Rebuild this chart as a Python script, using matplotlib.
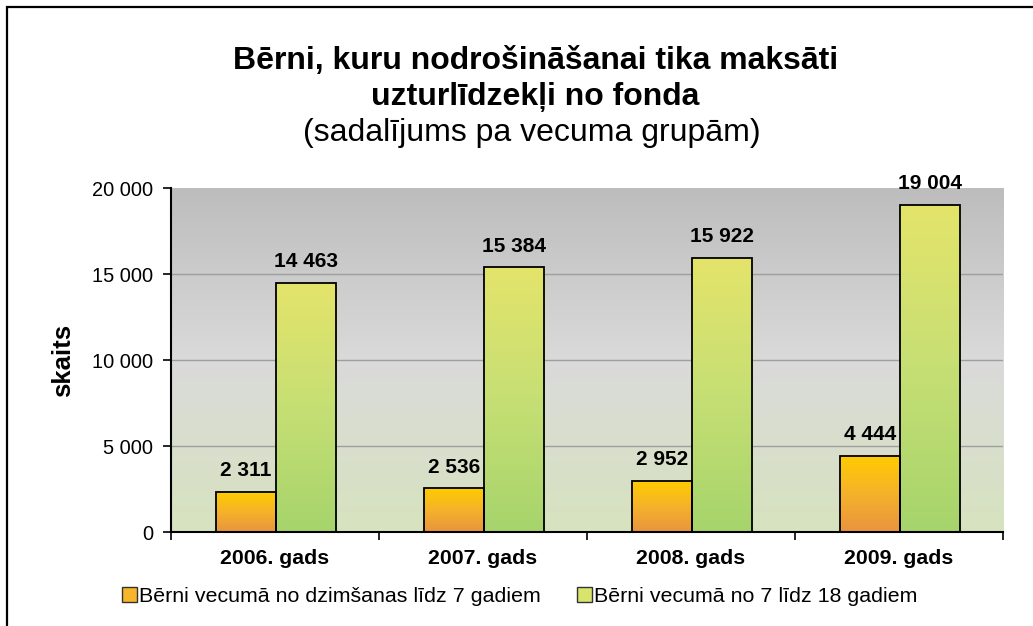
import matplotlib
matplotlib.use("Agg")
import matplotlib.pyplot as plt
import numpy as np
from matplotlib.colors import LinearSegmentedColormap
from matplotlib.patches import Patch, Rectangle

plt.rcParams['font.family'] = ['Liberation Sans', 'DejaVu Sans']

years = ["2006. gads", "2007. gads", "2008. gads", "2009. gads"]
young = [2311, 2536, 2952, 4444]
older = [14463, 15384, 15922, 19004]
series_names = ["Bērni vecumā no dzimšanas līdz 7 gadiem",
                "Bērni vecumā no 7 līdz 18 gadiem"]
yticks = [0, 5000, 10000, 15000, 20000]


def fmt(v):
    return f"{v:,}".replace(",", " ")


def gradient(ax, x0, x1, y0, y1, colors, z):
    cmap = LinearSegmentedColormap.from_list("g", colors)
    grad = np.linspace(0, 1, 256).reshape(-1, 1)
    ax.imshow(grad, cmap=cmap, extent=(x0, x1, y0, y1), origin="lower",
              aspect="auto", zorder=z, interpolation="bicubic")


fig = plt.figure(figsize=(10.33, 6.26), dpi=100)
ax = fig.add_axes([171 / 1033, 1 - 532 / 626, 832 / 1033, 344 / 626])

x = np.arange(len(years))
w = 0.29
b1 = ax.bar(x - w / 2 + 0.005, young, w, facecolor="none", edgecolor="black", lw=1.3, zorder=4)
b2 = ax.bar(x + w / 2 + 0.005, older, w, facecolor="none", edgecolor="black", lw=1.3, zorder=4)

for r in b1:
    gradient(ax, r.get_x(), r.get_x() + r.get_width(), 0, r.get_height(),
             ["#e8943f", "#f5b22a", "#ffcc00"], 3)
for r in b2:
    gradient(ax, r.get_x(), r.get_x() + r.get_width(), 0, r.get_height(),
             ["#a6d46c", "#c6df74", "#e4e46a"], 3)

# plot area background
gradient(ax, -0.5, 3.5, 0, 20000, ["#d7e3bf", "#dadada", "#bdbdbd"], 0)

ax.set_xlim(-0.5, 3.5)
ax.set_ylim(0, 20000)

for v in yticks[1:-1]:
    ax.axhline(v, color="#9e9e9e", lw=1, zorder=1)

for r, v in zip(list(b1) + list(b2), young + older):
    ax.annotate(fmt(v), (r.get_x() + r.get_width() / 2, v), xytext=(0, 8.5),
                textcoords="offset points", ha="center", va="bottom",
                fontsize=15, fontweight="bold")

ax.set_yticks(yticks)
ax.set_yticklabels([fmt(v) for v in yticks], fontsize=14.4)
ax.set_xticks([-0.5, 0.5, 1.5, 2.5, 3.5])
ax.set_xticklabels([])
ax.set_xticks(x, minor=True)
ax.set_xticklabels(years, minor=True, fontsize=15.3, fontweight="bold")
ax.tick_params(axis="x", which="minor", length=0, pad=12)
ax.tick_params(axis="x", which="major", length=6, width=1.2, direction="out")
ax.tick_params(axis="y", length=6, width=1.2, direction="out", pad=7)

for s in ["top", "right"]:
    ax.spines[s].set_visible(False)
for s in ["left", "bottom"]:
    ax.spines[s].set_linewidth(1.5)
    ax.spines[s].set_zorder(5)

ax.set_ylabel("skaits", fontsize=18.5, fontweight="bold", labelpad=12)

fig.text(0.518, 1 - 61 / 626, "Bērni, kuru nodrošināšanai tika maksāti",
         ha="center", va="center", fontsize=23, fontweight="bold")
fig.text(0.518, 1 - 97 / 626, "uzturlīdzekļi no fonda",
         ha="center", va="center", fontsize=23, fontweight="bold")
fig.text(0.515, 1 - 133 / 626, "(sadalījums pa vecuma grupām)",
         ha="center", va="center", fontsize=23)

handles = [Patch(facecolor="#f7b52a", edgecolor="#333333", lw=1),
           Patch(facecolor="#d8e46c", edgecolor="#333333", lw=1)]
fig.legend(handles, series_names, loc="center", bbox_to_anchor=(0.503, 1 - 596 / 626),
           ncol=2, frameon=False, fontsize=15.4, handlelength=0.7, handleheight=0.7,
           handletextpad=0.1, columnspacing=1.7)

fig.patches.append(Rectangle((7 / 1033, -0.1), 1.5, 1.1 - 7 / 626, fill=False,
                             edgecolor="black", lw=1.6, transform=fig.transFigure))

fig.savefig("out.png", dpi=100)
